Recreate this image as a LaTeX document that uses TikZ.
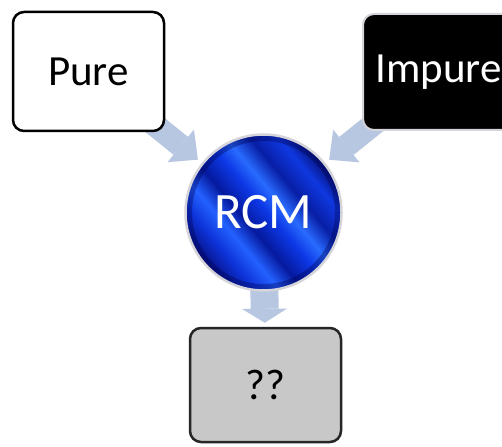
\documentclass[tikz,border=0pt]{standalone}
\usepackage{fontspec}
\setmainfont{Carlito}
\usetikzlibrary{arrows.meta,backgrounds}

\definecolor{arrowblue}{RGB}{183,198,225}
\definecolor{boxgrey}{RGB}{200,200,200}
\definecolor{halo}{RGB}{212,212,218}

% streaky blue fill for the central disc
\pgfdeclarehorizontalshading{wavyblue}{100bp}{%
  rgb(0bp)=(0.03,0.06,0.50);
  rgb(25bp)=(0.03,0.06,0.50);
  rgb(32bp)=(0.05,0.20,0.85);
  rgb(38bp)=(0.14,0.38,1.00);
  rgb(44bp)=(0.02,0.10,0.62);
  rgb(51bp)=(0.05,0.22,0.90);
  rgb(56bp)=(0.16,0.42,1.00);
  rgb(62bp)=(0.03,0.12,0.65);
  rgb(69bp)=(0.06,0.22,0.88);
  rgb(75bp)=(0.02,0.06,0.45);
  rgb(100bp)=(0.02,0.06,0.45)}

\tikzset{
  box/.style={rectangle, rounded corners=11pt, minimum width=151pt,
    inner sep=0pt, font=\fontsize{43}{50}\selectfont},
  flow/.style={draw=arrowblue, line width=23pt,
    -{Triangle[width=42pt,length=22pt,line width=0pt]}, shorten >=5pt},
  flowdown/.style={draw=arrowblue, line width=28pt,
    -{Triangle[width=45pt,length=14pt,line width=0pt]}, shorten >=4pt},
}

\begin{document}
\begin{tikzpicture}[x=1pt,y=-1pt]
\useasboundingbox (0,0) rectangle (502,446);

% nodes
\node[box, minimum height=119pt, draw=black, line width=2.5pt, fill=white]
  (pure) at (88.5,71.5) {Pure};
\node[box, minimum height=116pt, draw=halo, line width=2pt, fill=black, text=white]
  (impure) at (438.5,72) {Impure};
\node[circle, minimum size=156pt, inner sep=0pt, shading=wavyblue, shading angle=40,
  draw=halo, line width=2.5pt, text=white, font=\fontsize{51}{60}\selectfont,
  path picture={\draw[blue!30!black, line width=7pt, opacity=0.35]
    (path picture bounding box.center) circle (75pt);}]
  (rcm) at (263.5,212.5) {RCM};
\node[box, minimum height=114pt, draw=black!85, line width=2.5pt, fill=boxgrey]
  (result) at (265.5,385) {??};

% block arrows behind the shapes
\begin{pgfonlayer}{background}
  \fill[white] (0,0) rectangle (502,446);
  \draw[flow] (pure.center) -- (rcm);
  \draw[flow] (impure.center) -- (rcm);
  \draw[flowdown] (rcm.center) -- (result);
\end{pgfonlayer}
\end{tikzpicture}
\end{document}
